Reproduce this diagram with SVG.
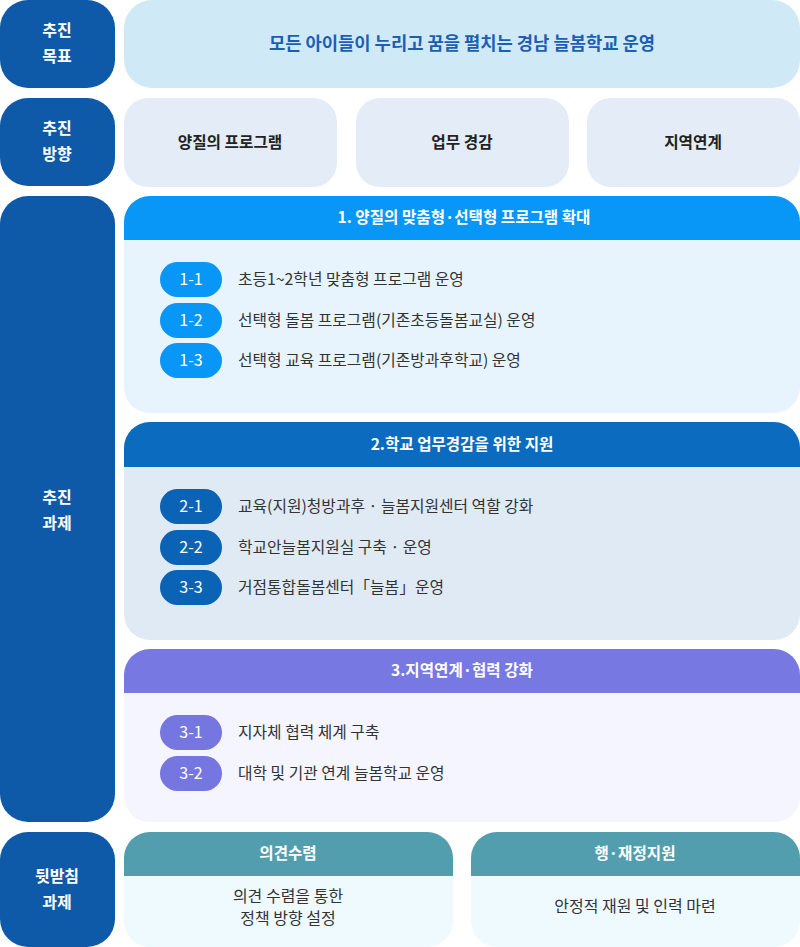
<svg xmlns="http://www.w3.org/2000/svg" width="800" height="947" viewBox="0 0 800 947">
<style>
text{font-family:"Noto Sans CJK KR","Noto Sans",sans-serif;}
.lbl{fill:#ffffff;font-size:16px;font-weight:700;text-anchor:middle;}
.side{fill:#0e5aa8;}
.dir{fill:#e4edf7;}
.dirt{fill:#222222;font-size:15.7px;font-weight:700;text-anchor:middle;}
.hdr{fill:#ffffff;font-size:15.6px;font-weight:700;text-anchor:middle;}
.item{fill:#333333;font-size:15.8px;}
.pill{fill:#ffffff;font-size:16px;text-anchor:middle;}
.body{fill:#333333;font-size:16px;text-anchor:middle;}
</style>
<rect width="800" height="947" fill="#ffffff"/>

<g id="label-goal">
<rect class="side" x="0" y="0" width="115" height="88" rx="28"/>
<text class="lbl" x="57" y="36">추진</text>
<text class="lbl" x="57" y="62">목표</text>
</g>
<g id="goal">
<rect x="124" y="0" width="676" height="88" rx="28" fill="#d0e9f6"/>
<text x="462" y="50" font-size="17.7" font-weight="700" fill="#1a5fb4" text-anchor="middle">모든 아이들이 누리고 꿈을 펼치는 경남 늘봄학교 운영</text>
</g>

<g id="label-direction">
<rect class="side" x="0" y="98" width="115" height="88" rx="28"/>
<text class="lbl" x="57" y="134">추진</text>
<text class="lbl" x="57" y="160">방향</text>
</g>
<g id="dir-1">
<rect class="dir" x="124" y="98" width="213" height="89" rx="24"/>
<text class="dirt" x="230" y="148">양질의 프로그램</text>
</g>
<g id="dir-2">
<rect class="dir" x="356" y="98" width="213" height="89" rx="24"/>
<text class="dirt" x="462" y="148">업무 경감</text>
</g>
<g id="dir-3">
<rect class="dir" x="587" y="98" width="213" height="89" rx="24"/>
<text class="dirt" x="693" y="148">지역연계</text>
</g>

<g id="label-tasks">
<rect class="side" x="0" y="196" width="115" height="626" rx="28"/>
<text class="lbl" x="57" y="503">추진</text>
<text class="lbl" x="57" y="529">과제</text>
</g>

<g id="section-1">
<rect x="124" y="196" width="676" height="217" rx="26" fill="#e8f4fd"/>
<path d="M124 240 V222 A26 26 0 0 1 150 196 H774 A26 26 0 0 1 800 222 V240 Z" fill="#0896f7"/>
<text class="hdr" x="464" y="223">1. 양질의 맞춤형·선택형 프로그램 확대</text>
<rect x="160" y="262" width="62" height="35" rx="17.5" fill="#0896f7"/>
<text class="pill" x="191" y="285">1-1</text>
<text class="item" x="238" y="285">초등1~2학년 맞춤형 프로그램 운영</text>
<rect x="160" y="303" width="62" height="35" rx="17.5" fill="#0896f7"/>
<text class="pill" x="191" y="326">1-2</text>
<text class="item" x="238" y="326">선택형 돌봄 프로그램(기존초등돌봄교실) 운영</text>
<rect x="160" y="343" width="62" height="35" rx="17.5" fill="#0896f7"/>
<text class="pill" x="191" y="366">1-3</text>
<text class="item" x="238" y="366">선택형 교육 프로그램(기존방과후학교) 운영</text>
</g>

<g id="section-2">
<rect x="124" y="422" width="676" height="218" rx="26" fill="#dfeaf4"/>
<path d="M124 467 V448 A26 26 0 0 1 150 422 H774 A26 26 0 0 1 800 448 V467 Z" fill="#0a6bbf"/>
<text class="hdr" x="462" y="450">2.학교 업무경감을 위한 지원</text>
<rect x="160" y="489" width="62" height="35" rx="17.5" fill="#0a63b5"/>
<text class="pill" x="191" y="512">2-1</text>
<text class="item" x="238" y="512">교육(지원)청방과후 · 늘봄지원센터 역할 강화</text>
<rect x="160" y="530" width="62" height="35" rx="17.5" fill="#0a63b5"/>
<text class="pill" x="191" y="553">2-2</text>
<text class="item" x="238" y="553">학교안늘봄지원실 구축 · 운영</text>
<rect x="160" y="570" width="62" height="35" rx="17.5" fill="#0a63b5"/>
<text class="pill" x="191" y="593">3-3</text>
<text class="item" x="238" y="593">거점통합돌봄센터「늘봄」운영</text>
</g>

<g id="section-3">
<rect x="124" y="649" width="676" height="173" rx="26" fill="#f4f5fe"/>
<path d="M124 693 V675 A26 26 0 0 1 150 649 H774 A26 26 0 0 1 800 675 V693 Z" fill="#7878e2"/>
<text class="hdr" x="462" y="676">3.지역연계·협력 강화</text>
<rect x="160" y="715" width="62" height="35" rx="17.5" fill="#7676e0"/>
<text class="pill" x="191" y="738">3-1</text>
<text class="item" x="238" y="738">지자체 협력 체계 구축</text>
<rect x="160" y="756" width="62" height="35" rx="17.5" fill="#7676e0"/>
<text class="pill" x="191" y="779">3-2</text>
<text class="item" x="238" y="779">대학 및 기관 연계 늘봄학교 운영</text>
</g>

<g id="label-support">
<rect class="side" x="0" y="832" width="115" height="115" rx="28"/>
<text class="lbl" x="57" y="882">뒷받침</text>
<text class="lbl" x="57" y="908">과제</text>
</g>
<g id="support-1">
<rect x="124" y="832" width="329" height="115" rx="26" fill="#eefaff"/>
<path d="M124 876 V858 A26 26 0 0 1 150 832 H427 A26 26 0 0 1 453 858 V876 Z" fill="#529eae"/>
<text class="hdr" x="288" y="859">의견수렴</text>
<text class="body" x="288" y="902">의견 수렴을 통한</text>
<text class="body" x="288" y="924">정책 방향 설정</text>
</g>
<g id="support-2">
<rect x="471" y="832" width="329" height="115" rx="26" fill="#eefaff"/>
<path d="M471 876 V858 A26 26 0 0 1 497 832 H774 A26 26 0 0 1 800 858 V876 Z" fill="#529eae"/>
<text class="hdr" x="635" y="859">행·재정지원</text>
<text class="body" x="635" y="912">안정적 재원 및 인력 마련</text>
</g>
</svg>
